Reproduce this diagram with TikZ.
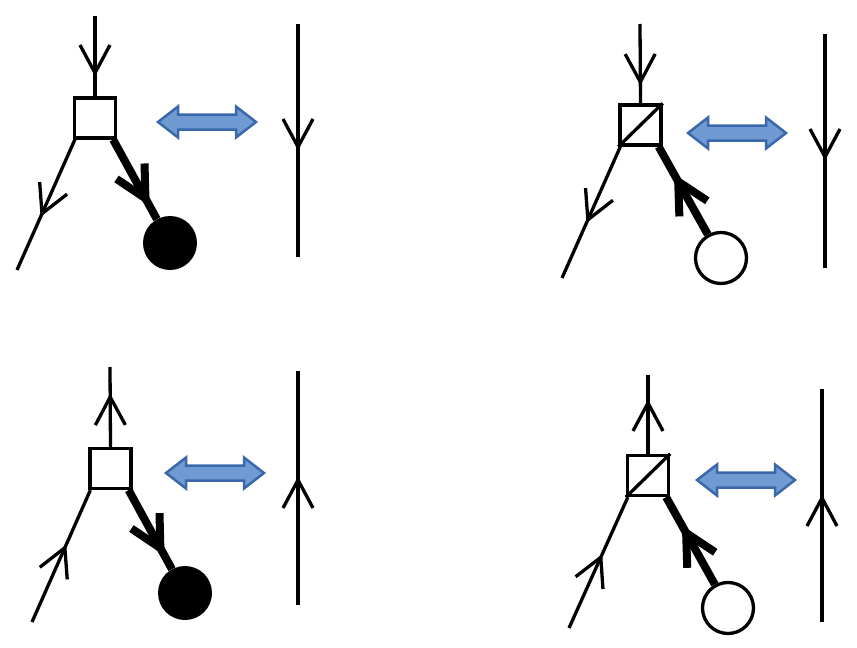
\documentclass[tikz,border=0pt]{standalone}
\usetikzlibrary{decorations.markings,calc}
\definecolor{arrfill}{RGB}{111,155,210}
\definecolor{arrdraw}{RGB}{58,104,170}
\tikzset{
  x=1pt, y=-1pt,
  thinln/.style={line width=3.3pt},
  heavy/.style={line width=8pt},
  boxst/.style={draw, line width=3.3pt, minimum width=41pt, minimum height=40pt, inner sep=0pt},
  ballst/.style={circle, fill=black, minimum size=54pt, inner sep=0pt},
  ringst/.style={circle, draw, line width=3.3pt, fill=white, minimum size=51pt, inner sep=0pt},
  fwd/.style={postaction={decorate, decoration={markings,
      mark=at position #1 with {\draw[line width=3.3pt] (-28pt,15pt) -- (0pt,0pt) -- (-28pt,-15pt);}}}},
  bwd/.style={postaction={decorate, decoration={markings,
      mark=at position #1 with {\draw[line width=3.3pt] (28pt,15pt) -- (0pt,0pt) -- (28pt,-15pt);}}}},
  fwdheavy/.style={postaction={decorate, decoration={markings,
      mark=at position #1 with {\draw[line width=8pt] (-31pt,16pt) -- (0pt,0pt) -- (-31pt,-16pt);}}}},
  bwdheavy/.style={postaction={decorate, decoration={markings,
      mark=at position #1 with {\draw[line width=8pt] (31pt,16pt) -- (0pt,0pt) -- (31pt,-16pt);}}}},
  dblst/.style={draw=arrdraw, fill=arrfill, line width=2.5pt, line join=miter},
  dblarrow/.pic={\draw[dblst] (0,0) -- (20,-15.5) -- (20,-7.5) -- (78,-7.5) -- (78,-15.5) -- (98,0)
      -- (78,15.5) -- (78,7.5) -- (20,7.5) -- (20,15.5) -- cycle;}
}
\begin{document}
\begin{tikzpicture}
\useasboundingbox (0,0) rectangle (857,648);

% ---------- panel 1 (top left)
\node[boxst] (b1) at (95,118) {};
\node[ballst] (c1) at (170,243) {};
\coordinate (t1) at (95,16);
\coordinate (l1) at (17,270);
\coordinate (r1a) at (298,24);
\coordinate (r1b) at (298,257);
\draw[thinln, fwd=57pt] (t1) -- (b1.north);
\draw[thinln, fwd=81pt] ([xshift=2pt]b1.south west) -- (l1);
\draw[heavy, fwdheavy=67pt] ([xshift=-4pt]b1.south east) -- (c1);
\draw[thinln, fwd=123pt] (r1a) -- (r1b);
\pic (a1) at (158,122) {dblarrow};

% ---------- panel 2 (top right)
\node[boxst] (b2) at (640.5,125) {};
\draw[line width=3.3pt] (b2.south west) -- (b2.north east);
\node[ringst] (c2) at (721,258) {};
\coordinate (t2) at (640,24);
\coordinate (l2) at (562,278);
\coordinate (r2a) at (825,34);
\coordinate (r2b) at (825,268);
\draw[thinln, fwd=58pt] (t2) -- (b2.north);
\draw[thinln, fwd=80pt] ([xshift=2pt]b2.south west) -- (l2);
\draw[heavy, bwdheavy=40pt] ([xshift=-4pt]b2.south east) -- (c2);
\draw[thinln, fwd=123pt] (r2a) -- (r2b);
\pic (a2) at (688,133) {dblarrow};

% ---------- panel 3 (bottom left)
\node[boxst] (b3) at (110.5,468.5) {};
\node[ballst] (c3) at (185,593) {};
\coordinate (t3) at (110,367);
\coordinate (l3) at (32,622);
\coordinate (r3a) at (298,371);
\coordinate (r3b) at (298,605);
\draw[thinln, bwd=30pt] (t3) -- (b3.north);
\draw[thinln, bwd=63pt] ([xshift=2pt]b3.south west) -- (l3);
\draw[heavy, fwdheavy=66pt] ([xshift=-4pt]b3.south east) -- (c3);
\draw[thinln, bwd=109pt] (r3a) -- (r3b);
\pic (a3) at (166,473) {dblarrow};

% ---------- panel 4 (bottom right)
\node[boxst] (b4) at (648,475.5) {};
\draw[line width=3.3pt] (b4.south west) -- (b4.north east);
\node[ringst] (c4) at (728,608) {};
\coordinate (t4) at (648,375);
\coordinate (l4) at (569,628);
\coordinate (r4a) at (822,389);
\coordinate (r4b) at (822,622);
\draw[thinln, bwd=28pt] (t4) -- (b4.north);
\draw[thinln, bwd=66pt] ([xshift=2pt]b4.south west) -- (l4);
\draw[heavy, bwdheavy=41pt] ([xshift=-4pt]b4.south east) -- (c4);
\draw[thinln, bwd=109pt] (r4a) -- (r4b);
\pic (a4) at (697,480) {dblarrow};
\end{tikzpicture}
\end{document}
